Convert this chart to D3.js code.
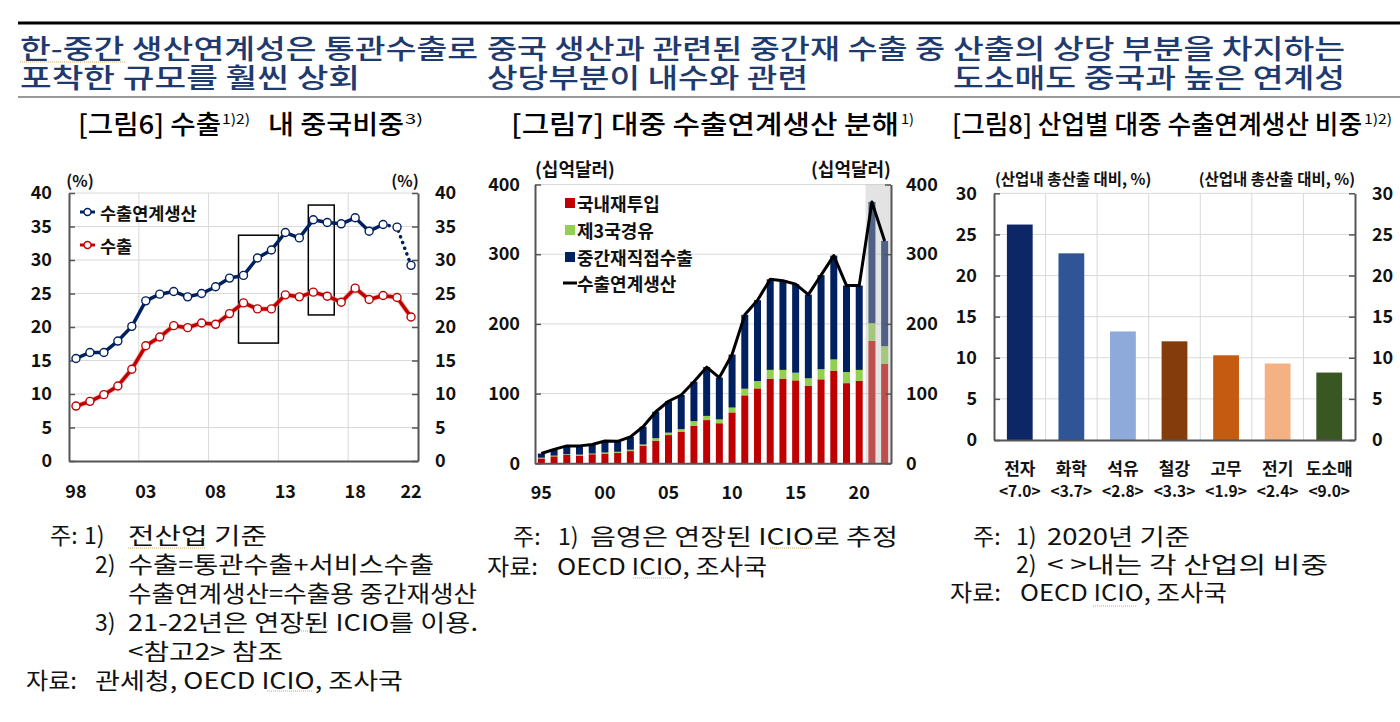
<!DOCTYPE html>
<html><head><meta charset="utf-8">
<script src="https://cdn.jsdelivr.net/npm/d3@7"></script>
<style>
html,body{margin:0;padding:0;background:#fff;}
svg{display:block;}
text{font-family:'Noto Sans CJK KR','Noto Sans',sans-serif;}
</style></head><body>
<svg id="c" width="1400" height="722"></svg>
<script>
// ---------------- DATA ----------------
const headlines = [
  ["한-중간 생산연계성은 통관수출로", "포착한 규모를 훨씬 상회"],
  ["중국 생산과 관련된 중간재 수출 중", "상당부분이 내수와 관련"],
  ["산출의 상당 부분을 차지하는", "도소매도 중국과 높은 연계성"]
];
// Chart titles: segments [text, isSuperscript]
const title6 = [["[그림6] 수출", false], ["1)2)", true], ["내 중국비중", false], ["3)", true]];
const title7 = [["[그림7] 대중 수출연계생산 분해", false], ["1)", true]];
const title8 = [["[그림8] 산업별 대중 수출연계생산 비중", false], ["1)2)", true]];

// Figure 6 (%)
const years6 = ["98","99","00","01","02","03","04","05","06","07","08","09","10","11","12","13","14","15","16","17","18","19","20","21","22"];
const linkedShare6 = [15.3,16.2,16.2,17.9,20.1,23.9,24.9,25.3,24.5,25.0,26.0,27.3,27.7,30.3,31.5,34.1,33.3,36.0,35.6,35.4,36.3,34.3,35.3,34.9,29.2];
const exportShare6 = [8.2,8.9,9.9,11.2,13.7,17.2,18.5,20.2,19.9,20.6,20.4,22.0,23.6,22.7,22.7,24.8,24.5,25.2,24.6,23.7,25.8,24.1,24.7,24.4,21.5];
const xTicks6 = ["98","03","08","13","18","22"];
const yTicks6 = [0,5,10,15,20,25,30,35,40];
const seriesNames6 = ["수출연계생산", "수출"];
const estimatedFrom6 = "20";
const boxes6 = [
  {from:"10", to:"12", lo:17.6, hi:33.7},
  {from:"15", to:"16", lo:21.8, hi:38.2}
];

// Figure 7 (십억달러)
const years7 = ["95","96","97","98","99","00","01","02","03","04","05","06","07","08","09","10","11","12","13","14","15","16","17","18","19","20","21","22"];
const domestic7 = [7,10,12,11,13,14,15,17.5,25,32.5,40.5,45.5,54,62,57.5,73,97.5,107.5,121.5,121.5,119,111.5,120.5,133,115,118.5,175.5,142.5];
const thirdCountry7 = [1,1,1,1.5,1,1.5,1.5,2,2,3.5,3.5,3.5,6.5,6,5.5,7,9.5,10.5,12.5,12.5,11,10.5,14.5,16,16,15.5,25.5,25.5];
const directIntermediate7 = [6,9,12,12.5,13,16.5,15,18.5,25.5,38,45,49,56.5,70,60,76,106,116,130,128,127,120,135,149,124,121,174,151];
const linkedProduction7 = [14,20,25,25,27,32,31.5,38,52.5,74,89,98,117,138,123,156,213,234,264,262,257,242,270,298,255,255,375,319];
const seriesNames7 = ["국내재투입", "제3국경유", "중간재직접수출", "수출연계생산"];
const xTicks7 = ["95","00","05","10","15","20"];
const yTicks7 = [0,100,200,300,400];
const shadedYears7 = ["21","22"];

// Figure 8 (%)
const industries8 = ["전자","화학","석유","철강","고무","전기","도소매"];
const industryWeights8 = ["<7.0>","<3.7>","<2.8>","<3.3>","<1.9>","<2.4>","<9.0>"];
const shares8 = [26.2,22.7,13.2,12.0,10.3,9.3,8.2];
const yTicks8 = [0,5,10,15,20,25,30];

// Notes (text only)
const notes6 = [
  ["주:","1)","전산업 기준"],
  ["2)","수출=통관수출+서비스수출"],
  ["수출연계생산=수출용 중간재생산"],
  ["3)","21-22년은 연장된 ICIO를 이용."],
  ["<참고2> 참조"],
  ["자료:","관세청, OECD ICIO, 조사국"]
];
const notes7 = [
  ["주:","1)","음영은 연장된 ICIO로 추정"],
  ["자료:","OECD ICIO, 조사국"]
];
const notes8 = [
  ["주:","1)","2020년 기준"],
  ["2)","< >내는 각 산업의 비중"],
  ["자료:","OECD ICIO, 조사국"]
];

// ---------------- LAYOUT / STYLE ----------------
const RED = "#c00000", GREEN = "#92d050", DNAVY = "#002060";
const barColors8 = ["#0d2766","#2f5597","#8eaadb","#843c0c","#c55a11","#f4b183","#385723"];
const AXIS = "#555", GRID = "#d9d9d9", TXT = "#111";
const headLayout = [[20, 458, 340],[487, 458, 321],[953, 392, 392]];
const titleLayout6 = [[78,143],[222,28],[268,136],[405,18]];
const titleLayout7 = [[511,388],[901,13]];
const titleLayout8 = [[952,410],[1364,28]];
// notes layout: [x, width or 0 for natural]
const notesLayout6 = [
  [[50,0],[84,0],[128,139]],
  [[95,0],[128,306]],
  [[128,349]],
  [[95,0],[128,350]],
  [[128,155]],
  [[26,51],[95,308]]
];
const notesLayout7 = [
  [[513,0],[558,0],[590,308]],
  [[487,51],[557,210]]
];
const notesLayout8 = [
  [[973,0],[1016,0],[1047,143]],
  [[1016,0],[1047,281]],
  [[950,51],[1020,207]]
];
const squiggles = [[20,125,62],[128,205,548],[287,328,631],[267,312,691],[770,812,548],[633,673,578],[1093,1137,606]];

const svg = d3.select("#c");

// ---------------- HEADER ----------------
svg.append("line").attr("x1",18).attr("x2",1400).attr("y1",23).attr("y2",23)
  .attr("stroke","#000").attr("stroke-width",3);
svg.append("line").attr("x1",18).attr("x2",1400).attr("y1",97).attr("y2",97)
  .attr("stroke","#777").attr("stroke-width",1.5);
headlines.forEach((lines,i) => {
  lines.forEach((t,j) => {
    svg.append("text").attr("x",headLayout[i][0]).attr("y",[47,76][j])
      .attr("dominant-baseline","central")
      .attr("font-size",27).attr("font-weight",500).attr("fill","#1f3a6e")
      .attr("textLength",headLayout[i][1+j]).attr("lengthAdjust","spacingAndGlyphs")
      .text(t);
  });
});

function title(parts, layout, y) {
  parts.forEach(([s,sup],k) => {
    svg.append("text").attr("x",layout[k][0]).attr("y",sup ? y-10 : y)
      .attr("font-size",sup ? 14 : 26).attr("font-weight",sup ? 400 : 500).attr("fill","#000")
      .attr("textLength",layout[k][1]).attr("lengthAdjust","spacingAndGlyphs")
      .text(s);
  });
}
title(title6, titleLayout6, 134);
title(title7, titleLayout7, 134);
title(title8, titleLayout8, 134);

function axisStyle(g) {
  g.selectAll(".domain").attr("stroke",AXIS).attr("stroke-width",2);
  g.selectAll(".tick line").attr("stroke",AXIS).attr("stroke-width",1.5);
  g.selectAll(".tick text").attr("font-size",18).attr("font-weight",700).attr("fill",TXT)
    .attr("font-family","'Noto Sans CJK KR',sans-serif");
}

// ---------------- FIGURE 6 ----------------
{
  const X0=69, X1=418, YB=461, YT=193;
  const x = d3.scaleBand().domain(years6).range([X0,X1]);
  const y = d3.scaleLinear().domain([0,40]).range([YB,YT]);
  const cx = d => x(d) + x.bandwidth()/2;
  const g = svg.append("g");
  g.selectAll(".hg").data(yTicks6.filter(v=>v>0)).join("line")
    .attr("x1",X0).attr("x2",X1).attr("y1",d=>y(d)).attr("y2",d=>y(d))
    .attr("stroke",GRID).attr("stroke-width",1);
  g.selectAll(".vg").data(["03","08","13","18"]).join("line")
    .attr("x1",d=>x(d)).attr("x2",d=>x(d)).attr("y1",YT).attr("y2",YB)
    .attr("stroke",GRID).attr("stroke-width",1);
  const ga = g.append("g").attr("transform",`translate(${X0},0)`)
    .call(d3.axisLeft(y).tickValues(yTicks6).tickSize(-6).tickSizeOuter(0).tickPadding(17));
  axisStyle(ga);
  const gb = g.append("g").attr("transform",`translate(${X1},0)`)
    .call(d3.axisRight(y).tickValues(yTicks6).tickSize(-6).tickSizeOuter(0).tickPadding(17));
  axisStyle(gb);
  const gx = g.append("g").attr("transform",`translate(0,${YB})`)
    .call(d3.axisBottom(x).tickValues(xTicks6).tickSize(0).tickSizeOuter(0));
  axisStyle(gx);
  gx.selectAll(".tick text").attr("y",31).attr("dy","0.35em");
  g.selectAll(".box").data(boxes6).join("rect")
    .attr("x",d=>x(d.from)+2).attr("width",d=>x(d.to)+x.bandwidth()-x(d.from)-2)
    .attr("y",d=>y(d.hi)).attr("height",d=>y(d.lo)-y(d.hi))
    .attr("fill","none").attr("stroke","#000").attr("stroke-width",1.5);
  const rows = years6.map((yr,i)=>({yr, a:linkedShare6[i], b:exportShare6[i]}));
  const cut = years6.indexOf(estimatedFrom6);
  const la = d3.line().x(d=>cx(d.yr)).y(d=>y(d.a));
  const lb = d3.line().x(d=>cx(d.yr)).y(d=>y(d.b));
  g.append("path").attr("d",lb(rows)).attr("fill","none").attr("stroke","#e8a0a0")
    .attr("stroke-width",5.5).attr("stroke-linejoin","round").attr("opacity",0.6);
  g.append("path").attr("d",lb(rows)).attr("fill","none").attr("stroke",RED)
    .attr("stroke-width",3.5).attr("stroke-linejoin","round");
  g.append("path").attr("d",la(rows.slice(0,cut+1))).attr("fill","none").attr("stroke",DNAVY)
    .attr("stroke-width",3.5).attr("stroke-linejoin","round");
  g.append("path").attr("d",la(rows.slice(cut))).attr("fill","none").attr("stroke",DNAVY)
    .attr("stroke-width",3.5).attr("stroke-dasharray","0.1 6").attr("stroke-linecap","round");
  g.selectAll(".mb").data(rows).join("circle").attr("cx",d=>cx(d.yr)).attr("cy",d=>y(d.b))
    .attr("r",4).attr("fill","#fff").attr("stroke",RED).attr("stroke-width",1.4);
  g.selectAll(".ma").data(rows).join("circle").attr("cx",d=>cx(d.yr)).attr("cy",d=>y(d.a))
    .attr("r",4).attr("fill","#fff").attr("stroke",DNAVY).attr("stroke-width",1.4);
  [[DNAVY,212],[RED,245]].forEach(([c,ly],i)=>{
    g.append("line").attr("x1",80).attr("x2",95).attr("y1",ly).attr("y2",ly).attr("stroke",c).attr("stroke-width",3);
    g.append("circle").attr("cx",87.5).attr("cy",ly).attr("r",3.5).attr("fill","#fff").attr("stroke",c).attr("stroke-width",1.4);
    g.append("text").attr("x",100).attr("y",ly).attr("dominant-baseline","central")
      .attr("font-size",17.5).attr("font-weight",700).attr("fill",TXT).text(seriesNames6[i]);
  });
  g.append("text").attr("x",80).attr("y",180).attr("text-anchor","middle").attr("dominant-baseline","central")
    .attr("font-size",16).attr("font-weight",700).attr("fill",TXT).text("(%)");
  g.append("text").attr("x",405).attr("y",180).attr("text-anchor","middle").attr("dominant-baseline","central")
    .attr("font-size",16).attr("font-weight",700).attr("fill",TXT).text("(%)");
}

// ---------------- FIGURE 7 ----------------
{
  const X0=535, X1=891, YB=463.3, YT=184.5;
  const x = d3.scaleBand().domain(years7).range([X0,X1]).paddingInner(0.45).paddingOuter(0.225);
  const y = d3.scaleLinear().domain([0,400]).range([YB,YT]);
  const step = x.step();
  const cx = d => x(d) + x.bandwidth()/2;
  const g = svg.append("g");
  g.selectAll(".hg").data(yTicks7.filter(v=>v>0)).join("line")
    .attr("x1",X0).attr("x2",X1).attr("y1",d=>y(d)).attr("y2",d=>y(d))
    .attr("stroke",GRID).attr("stroke-width",1);
  const table = years7.map((yr,i)=>({yr, dom:domestic7[i], third:thirdCountry7[i], direct:directIntermediate7[i], total:linkedProduction7[i]}));
  const stack = d3.stack().keys(["dom","third","direct"])(table);
  const cols = {dom:RED, third:GREEN, direct:DNAVY};
  stack.forEach(s => {
    g.append("g").selectAll("rect").data(s).join("rect")
      .attr("x",d=>x(d.data.yr)).attr("width",x.bandwidth())
      .attr("y",d=>y(d[1])).attr("height",d=>y(d[0])-y(d[1]))
      .attr("fill",cols[s.key]);
  });
  const sx = cx(shadedYears7[0]) - step/2;
  g.append("rect").attr("x",sx).attr("y",YT).attr("width",X1-sx).attr("height",YB-YT)
    .attr("fill","#bdbdbd").attr("opacity",0.42);
  const ln = d3.line().x(d=>cx(d.yr)).y(d=>y(d.total));
  g.append("path").attr("d",ln(table)).attr("fill","none").attr("stroke","#000")
    .attr("stroke-width",3).attr("stroke-linejoin","round");
  const ga = g.append("g").attr("transform",`translate(${X0},0)`)
    .call(d3.axisLeft(y).tickValues(yTicks7).tickSize(-6).tickSizeOuter(0).tickPadding(15));
  axisStyle(ga);
  const gb = g.append("g").attr("transform",`translate(${X1},0)`)
    .call(d3.axisRight(y).tickValues(yTicks7).tickSize(-6).tickSizeOuter(0).tickPadding(15));
  axisStyle(gb);
  const gx = g.append("g").attr("transform",`translate(0,${YB})`)
    .call(d3.axisBottom(x).tickValues(xTicks7).tickSize(0).tickSizeOuter(0));
  axisStyle(gx);
  gx.selectAll(".tick text").attr("y",29).attr("dy","0.35em");
  [RED,GREEN,DNAVY].forEach((c,i)=>{
    const ly = [203,230,257][i];
    g.append("rect").attr("x",565).attr("y",ly-5).attr("width",10).attr("height",10).attr("fill",c);
  });
  g.append("line").attr("x1",563).attr("x2",577).attr("y1",283).attr("y2",283).attr("stroke","#000").attr("stroke-width",3);
  seriesNames7.forEach((n,i)=>{
    g.append("text").attr("x",577).attr("y",[203,230,257,283][i]).attr("dominant-baseline","central")
      .attr("font-size",18).attr("font-weight",700).attr("fill",TXT).text(n);
  });
  g.append("text").attr("x",575).attr("y",168).attr("text-anchor","middle").attr("dominant-baseline","central")
    .attr("font-size",18).attr("font-weight",700).attr("fill",TXT).text("(십억달러)");
  g.append("text").attr("x",851).attr("y",168).attr("text-anchor","middle").attr("dominant-baseline","central")
    .attr("font-size",18).attr("font-weight",700).attr("fill",TXT).text("(십억달러)");
}

// ---------------- FIGURE 8 ----------------
{
  const X0=994, X1=1355, YB=440, YT=193.3;
  const x = d3.scaleBand().domain(industries8).range([X0,X1]).paddingInner(0.5).paddingOuter(0.25);
  const y = d3.scaleLinear().domain([0,30]).range([YB,YT]);
  const step = x.step();
  const g = svg.append("g");
  g.selectAll(".hg").data(yTicks8.filter(v=>v>0)).join("line")
    .attr("x1",X0).attr("x2",X1).attr("y1",d=>y(d)).attr("y2",d=>y(d))
    .attr("stroke",GRID).attr("stroke-width",1);
  g.selectAll(".vg").data(industries8.slice(1)).join("line")
    .attr("x1",d=>x(d)-step*0.25).attr("x2",d=>x(d)-step*0.25).attr("y1",YT).attr("y2",YB)
    .attr("stroke",GRID).attr("stroke-width",1);
  g.selectAll(".bar").data(industries8).join("rect")
    .attr("x",d=>x(d)).attr("width",x.bandwidth())
    .attr("y",(d,i)=>y(shares8[i])).attr("height",(d,i)=>YB-y(shares8[i]))
    .attr("fill",(d,i)=>barColors8[i]);
  const ga = g.append("g").attr("transform",`translate(${X0},0)`)
    .call(d3.axisLeft(y).tickValues(yTicks8).tickSize(-6).tickSizeOuter(0).tickPadding(17));
  axisStyle(ga);
  const gb = g.append("g").attr("transform",`translate(${X1},0)`)
    .call(d3.axisRight(y).tickValues(yTicks8).tickSize(-6).tickSizeOuter(0).tickPadding(17));
  axisStyle(gb);
  const gx = g.append("g").attr("transform",`translate(0,${YB})`)
    .call(d3.axisBottom(x).tickSize(0).tickSizeOuter(0).tickFormat(()=>""));
  axisStyle(gx);
  industries8.forEach((n,i)=>{
    const c = x(n)+x.bandwidth()/2;
    g.append("text").attr("x",c).attr("y",467).attr("text-anchor","middle").attr("dominant-baseline","central")
      .attr("font-size",17).attr("font-weight",700).attr("fill",TXT).text(n);
    g.append("text").attr("x",c).attr("y",490).attr("text-anchor","middle").attr("dominant-baseline","central")
      .attr("font-size",15.5).attr("font-weight",700).attr("fill",TXT).text(industryWeights8[i]);
  });
  g.append("text").attr("x",995).attr("y",178).attr("dominant-baseline","central")
    .attr("font-size",15.5).attr("font-weight",700).attr("fill",TXT).text("(산업내 총산출 대비, %)");
  g.append("text").attr("x",1355).attr("y",178).attr("text-anchor","end").attr("dominant-baseline","central")
    .attr("font-size",15.5).attr("font-weight",700).attr("fill",TXT).text("(산업내 총산출 대비, %)");
}

// ---------------- NOTES ----------------
function notes(rows, layout, y0, dy) {
  rows.forEach((r,i)=>{
    r.forEach((t,k)=>{
      const [nx, nw] = layout[i][k];
      const el = svg.append("text").attr("x",nx).attr("y",y0+i*dy).attr("dominant-baseline","central")
        .attr("font-size",23).attr("font-weight",400).attr("fill","#111").text(t);
      if (nw > 0) el.attr("textLength",nw).attr("lengthAdjust","spacingAndGlyphs");
    });
  });
}
notes(notes6, notesLayout6, 534, 29);
notes(notes7, notesLayout7, 535, 30);
notes(notes8, notesLayout8, 535, 28);

svg.selectAll(".sq").data(squiggles).join("line")
  .attr("x1",d=>d[0]).attr("x2",d=>d[1]).attr("y1",d=>d[2]).attr("y2",d=>d[2])
  .attr("stroke","#c8a860").attr("stroke-width",1).attr("stroke-dasharray","1 1");
</script>
</body></html>
